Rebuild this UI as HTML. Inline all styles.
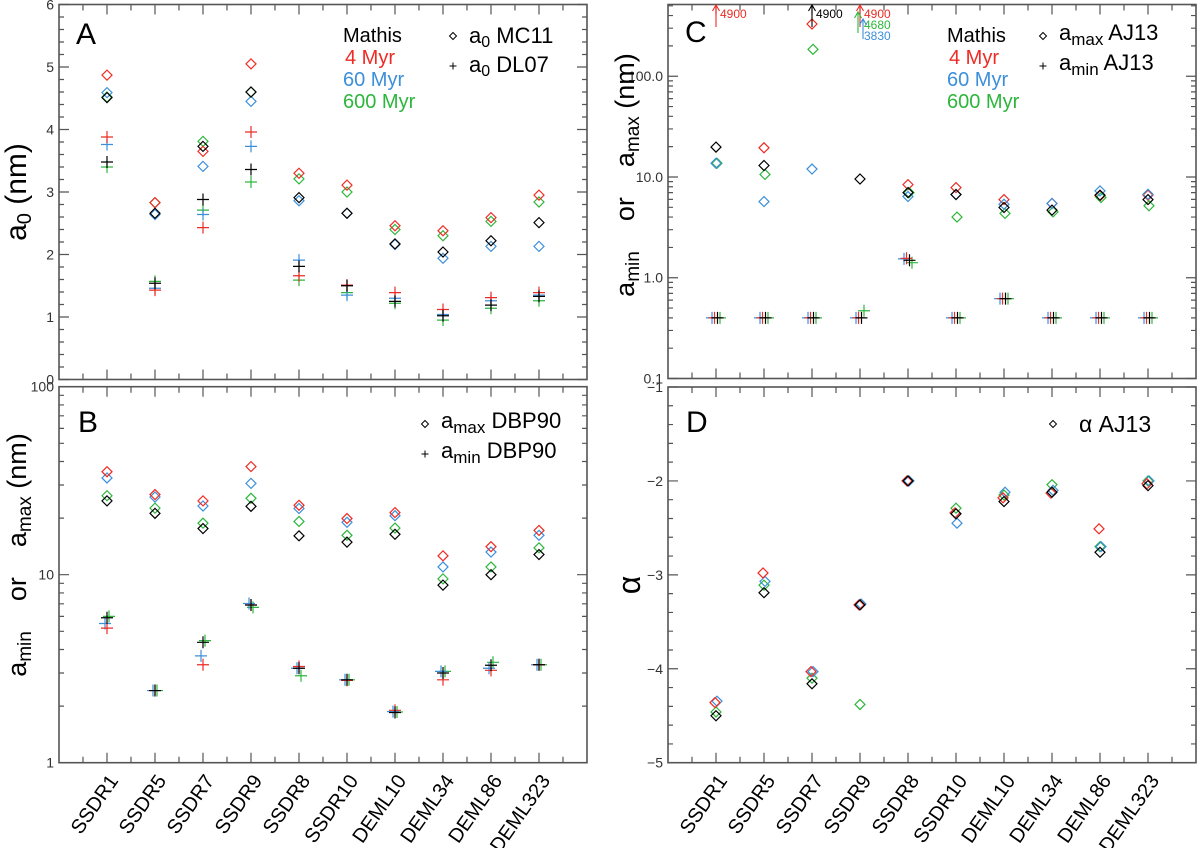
<!DOCTYPE html>
<html><head><meta charset="utf-8"><style>
html,body{margin:0;padding:0;background:#fff}
svg{display:block;font-family:"Liberation Sans","DejaVu Sans",sans-serif}
</style></head><body>
<svg id="chart" width="1200" height="848" viewBox="0 0 1200 848" xmlns="http://www.w3.org/2000/svg"></svg>
<script>
const categories = ["SSDR1","SSDR5","SSDR7","SSDR9","SSDR8","SSDR10","DEML10","DEML34","DEML86","DEML323"];
const seriesNames = ["Mathis","4 Myr","60 Myr","600 Myr"];
// Panel A: a0 MC11 (diamonds) and a0 DL07 (plus)
const aDiaBlack = [4.51,2.66,3.73,4.60,2.91,2.66,2.17,2.04,2.22,2.51];
const aDiaRed   = [4.87,2.83,3.65,5.05,3.30,3.11,2.46,2.38,2.59,2.95];
const aDiaBlue  = [4.59,2.64,3.41,4.45,2.86,2.66,2.16,1.94,2.13,2.13];
const aDiaGreen = [4.52,2.83,3.81,4.60,3.21,3.00,2.40,2.30,2.53,2.84];
const aPlusBlack = [3.48,1.54,2.88,3.36,1.81,1.50,1.25,1.02,1.19,1.33];
const aPlusRed   = [3.88,1.43,2.43,3.96,1.66,1.51,1.39,1.12,1.31,1.39];
const aPlusBlue  = [3.76,1.46,2.64,3.73,1.91,1.35,1.30,1.04,1.26,1.35];
const aPlusGreen = [3.40,1.57,2.71,3.16,1.59,1.39,1.22,0.95,1.14,1.26];
const aTicks = [0,1,2,3,4,5,6];
// Panel B: DBP90
const bDiaBlack = [24.7,21.2,17.6,23.1,16.1,14.9,16.4,8.8,10.0,12.8];
const bDiaRed   = [35.3,26.7,24.7,37.6,23.4,19.9,21.4,12.6,14.1,17.2];
const bDiaBlue  = [32.7,25.9,23.2,30.6,22.5,19.0,20.6,11.0,13.2,16.2];
const bDiaGreen = [26.3,22.6,18.8,25.5,19.2,16.2,17.7,9.5,11.0,13.9];
const bPlusBlack = [5.9,2.42,4.37,6.9,3.18,2.76,1.85,3.0,3.3,3.32];
const bPlusRed   = [5.2,2.42,3.32,6.9,3.25,2.74,1.90,2.76,3.1,3.32];
const bPlusBlue  = [5.5,2.42,3.70,7.03,3.18,2.76,1.87,3.06,3.18,3.32];
const bPlusGreen = [6.0,2.42,4.46,6.7,2.90,2.76,1.86,3.06,3.42,3.32];
const bTicks = [1,10,100];
// Panel C: AJ13 (values above axis drawn as arrows)
const cDiaBlack = [19.8,13.0,4900,9.55,7.0,6.7,4.98,4.69,6.6,5.97];
const cDiaRed   = [4900,19.5,330,4900,8.4,7.85,5.97,5.46,6.5,6.6];
const cDiaBlue  = [13.7,5.7,12.0,3830,6.4,6.7,5.37,5.46,7.28,6.74];
const cDiaGreen = [13.7,10.6,185,4680,7.0,4.0,4.35,4.5,6.25,5.18];
const cPlusBlack = [0.4,0.4,0.4,0.4,1.49,0.4,0.62,0.4,0.4,0.4];
const cPlusRed   = [0.4,0.4,0.4,0.4,1.56,0.4,0.62,0.4,0.4,0.4];
const cPlusBlue  = [0.4,0.4,0.4,0.4,1.54,0.4,0.62,0.4,0.4,0.4];
const cPlusGreen = [0.4,0.4,0.4,0.47,1.41,0.4,0.62,0.4,0.4,0.4];
const cTicks = [0.1,1,10,100];
const cTickLabels = ["0.1","1.0","10.0","100.0"];
// Panel D: alpha AJ13
const dDiaBlack = [-4.50,-3.19,-4.16,-3.32,-2.0,-2.35,-2.22,-2.12,-2.76,-2.05];
const dDiaRed   = [-4.36,-2.98,-4.03,-3.32,-2.0,-2.34,-2.18,-2.13,-2.51,-2.03];
const dDiaBlue  = [-4.345,-3.07,-4.03,-3.31,-2.0,-2.45,-2.12,-2.10,-2.70,-2.0];
const dDiaGreen = [-4.46,-3.11,-4.10,-4.38,-2.0,-2.29,-2.15,-2.04,-2.70,-2.0];
const dTicks = [-5,-4,-3,-2,-1];

const COL = {black:"#000000", red:"#ee2b24", blue:"#3c8fda", green:"#2db63c"};
const svg = document.getElementById('chart');
const NS = "http://www.w3.org/2000/svg";
function mk(tag, attrs, parent){
  const e = document.createElementNS(NS, tag);
  for (const k in attrs) e.setAttribute(k, attrs[k]);
  (parent||svg).appendChild(e);
  return e;
}
function makePanel(cfg){
  const g = mk('g', {});
  
  
  const {x0,x1,top,bot,log,ymin,ymax} = cfg;
  const xs = i => x0 + (i+1)*(x1-x0)/11;
  const ys = v => log ? bot - (Math.log10(v)-Math.log10(ymin))/(Math.log10(ymax)-Math.log10(ymin))*(bot-top)
                      : bot - (v-ymin)/(ymax-ymin)*(bot-top);
  const frame = mk('rect', {x:x0,y:top,width:x1-x0,height:bot-top,fill:'none',stroke:'#555','stroke-width':1.6}, g);
  
  
  let d = "";
  for (let k=1;k<=21;k++){
    const x = x0 + k*(x1-x0)/22, L = (k%2===0)?10:6;
    d += `M${x},${bot}v${-L}M${x},${top}v${L}`;
  }
  if (log){
    for (let e=Math.floor(Math.log10(ymin)); e<=Math.ceil(Math.log10(ymax)); e++){
      for (let m=1;m<10;m++){
        const v = m*Math.pow(10,e);
        if (v<ymin*0.999 || v>ymax*1.001) continue;
        const y = ys(v), L = m===1?10:5;
        d += `M${x0},${y}h${L}M${x1},${y}h${-L}`;
      }
    }
  } else {
    const step = 0.2;
    for (let v=ymin; v<=ymax+1e-9; v+=step){
      const y = ys(v), L = Math.abs(v-Math.round(v))<1e-6?10:5;
      d += `M${x0},${y}h${L}M${x1},${y}h${-L}`;
    }
  }
  const tk = mk('path', {d, stroke:'#555','stroke-width':1.2, fill:'none'}, g);
  
  
  cfg.ticks.forEach((v,i)=>{
    const t = mk('text', {x:x0-5, y:ys(v)+5, 'text-anchor':'end','font-size':14, fill:'#333'}, g);
    t.textContent = cfg.tickLabels ? cfg.tickLabels[i] : String(v).replace('-', '\u2212');
    
    
  });
  if (cfg.xlabels){
    categories.forEach((c,i)=>{
      const x = xs(i)+12, y = bot+18;
      const t = mk('text', {x, y, 'text-anchor':'end','font-size':20, fill:'#000', transform:`rotate(-55 ${x} ${y})`}, g);
      t.textContent = c;
      
      
    });
  }
  const arrowCount = {};
  cfg.series.forEach(s=>{
    s.vals.forEach((v,i)=>{
      if (v==null) return;
      const x = xs(i) + (s.dx||0);
      if (v > ymax){
        const n = arrowCount[i] = (arrowCount[i]||0);
        arrowCount[i]++;
        const ax = xs(i) + (n===1?-2:(n===2?3:0));
        const yStart = 27 + n*6, yEnd = 5 + n*7;
        const a = mk('path', {d:`M${ax},${yStart}V${yEnd}M${ax-3.5},${yEnd+6}L${ax},${yEnd}L${ax+3.5},${yEnd+6}`, stroke:s.color, 'stroke-width':1.1, fill:'none'}, g);
        
        
        const t = mk('text', {x:xs(i)+4, y:18+n*11, 'font-size':12, fill:s.color}, g);
        t.textContent = String(v);
        
        
        return;
      }
      const y = ys(v);
      let m;
      if (s.type==='dia'){
        const r = 5;
        m = mk('path', {d:`M${x},${y-r}L${x+r},${y}L${x},${y+r}L${x-r},${y}Z`, stroke:s.color,'stroke-width':1.2, fill:'none'}, g);
        
      } else {
        const r = 6;
        m = mk('path', {d:`M${x-r},${y}H${x+r}M${x},${y-r}V${y+r}`, stroke:s.color,'stroke-width':1.2, fill:'none'}, g);
        
      }
      
    });
  });
  return g;
}
function txt(x,y,s,size,color,name,extra){
  const t = mk('text', Object.assign({x,y,'font-size':size,fill:color}, extra||{}));
  t.innerHTML = s;
  
  
  return t;
}
const S = (type, arr, color, dx) => ({type, vals:arr, color, dx:dx||0});

makePanel({name:'panel-a', x0:59,x1:587,top:4.5,bot:379.5,log:false,ymin:0,ymax:6,ticks:aTicks,
  series:[S('plus',aPlusGreen,COL.green),S('plus',aPlusBlue,COL.blue),S('plus',aPlusRed,COL.red),S('plus',aPlusBlack,COL.black),
          S('dia',aDiaGreen,COL.green),S('dia',aDiaBlue,COL.blue),S('dia',aDiaRed,COL.red),S('dia',aDiaBlack,COL.black)]});
makePanel({name:'panel-b', x0:59,x1:587,top:386.7,bot:762.7,log:true,ymin:1,ymax:100,ticks:bTicks,xlabels:true,
  series:[S('plus',bPlusGreen,COL.green,2),S('plus',bPlusBlue,COL.blue,-2),S('plus',bPlusRed,COL.red),S('plus',bPlusBlack,COL.black),
          S('dia',bDiaGreen,COL.green),S('dia',bDiaBlue,COL.blue),S('dia',bDiaRed,COL.red),S('dia',bDiaBlack,COL.black)]});
makePanel({name:'panel-c', x0:668,x1:1196,top:4.5,bot:378.5,log:true,ymin:0.1,ymax:Math.pow(10,2.712),ticks:cTicks,tickLabels:cTickLabels,
  series:[S('plus',cPlusGreen,COL.green,4),S('plus',cPlusBlue,COL.blue,-4),S('plus',cPlusRed,COL.red,-1.5),S('plus',cPlusBlack,COL.black,1.5),
          S('dia',cDiaRed,COL.red),S('dia',cDiaGreen,COL.green,1),S('dia',cDiaBlue,COL.blue),S('dia',cDiaBlack,COL.black)]});
makePanel({name:'panel-d', x0:668,x1:1196,top:387,bot:762.7,log:false,ymin:-5,ymax:-1,ticks:dTicks,xlabels:true,
  series:[S('dia',dDiaGreen,COL.green),S('dia',dDiaBlue,COL.blue,1),S('dia',dDiaRed,COL.red,-1),S('dia',dDiaBlack,COL.black)]});

txt(76,44,'A',30,'#000','panel-a-label');
txt(78,432,'B',30,'#000','panel-b-label');
txt(685,42,'C',30,'#000','panel-c-label');
txt(686,432,'D',30,'#000','panel-d-label');
function ageLegend(x, prefix){
  txt(x,42,'Mathis',20,COL.black,prefix+'legend-mathis');
  txt(x+2,64,'4 Myr',20,COL.red,prefix+'legend-4myr');
  txt(x,86,'60 Myr',20,COL.blue,prefix+'legend-60myr');
  txt(x,108,'600 Myr',20,COL.green,prefix+'legend-600myr');
}
ageLegend(343,'a-');
ageLegend(947,'c-');
function legMark(x,y,type){
  const p = type==='dia' ? `M${x},${y-3.5}L${x+3.5},${y}L${x},${y+3.5}L${x-3.5},${y}Z` : `M${x-3.5},${y}H${x+3.5}M${x},${y-3.5}V${y+3.5}`;
  const m = mk('path',{d:p,stroke:'#000','stroke-width':1,fill:'none'});
  
  
}
legMark(453,36,'dia'); txt(469,43,'a<tspan font-size="16" dy="4">0</tspan><tspan dy="-4"> MC11</tspan>',22,'#000','legend-a0-mc11');
legMark(453,66,'plus'); txt(469,72,'a<tspan font-size="16" dy="4">0</tspan><tspan dy="-4"> DL07</tspan>',22,'#000','legend-a0-dl07');
legMark(425,424,'dia'); txt(441,428,'a<tspan font-size="17" dy="5">max</tspan><tspan dy="-5"> DBP90</tspan>',22,'#000','legend-amax-dbp90');
legMark(425,454,'plus'); txt(441,458,'a<tspan font-size="17" dy="5">min</tspan><tspan dy="-5"> DBP90</tspan>',22,'#000','legend-amin-dbp90');
legMark(1043,36,'dia'); txt(1059,40,'a<tspan font-size="17" dy="5">max</tspan><tspan dy="-5"> AJ13</tspan>',22,'#000','legend-amax-aj13');
legMark(1043,66,'plus'); txt(1059,70,'a<tspan font-size="17" dy="5">min</tspan><tspan dy="-5"> AJ13</tspan>',22,'#000','legend-amin-aj13');
legMark(1053,424,'dia'); txt(1079,432,'\u03b1 AJ13',23,'#000','legend-alpha-aj13');
txt(26,192,'a<tspan font-size="20" dy="5">0</tspan><tspan dy="-5"> (nm)</tspan>',30,'#000','y-axis-title-a',{transform:'rotate(-90 26 192)','text-anchor':'middle'});
const yt = 'a<tspan font-size="19" dy="5">min</tspan><tspan dy="-5">\u00a0\u00a0\u00a0\u00a0or\u00a0\u00a0\u00a0\u00a0a</tspan><tspan font-size="19" dy="5">max</tspan><tspan dy="-5"> (nm)</tspan>';
txt(26,555,yt,27,'#000','y-axis-title-b',{transform:'rotate(-90 26 555)','text-anchor':'middle'});
txt(634,175,yt,27,'#000','y-axis-title-c',{transform:'rotate(-90 634 175)','text-anchor':'middle'});
txt(640,585,'\u03b1',32,'#000','y-axis-title-d',{transform:'rotate(-90 640 585)','text-anchor':'middle'});
</script>
</body></html>
